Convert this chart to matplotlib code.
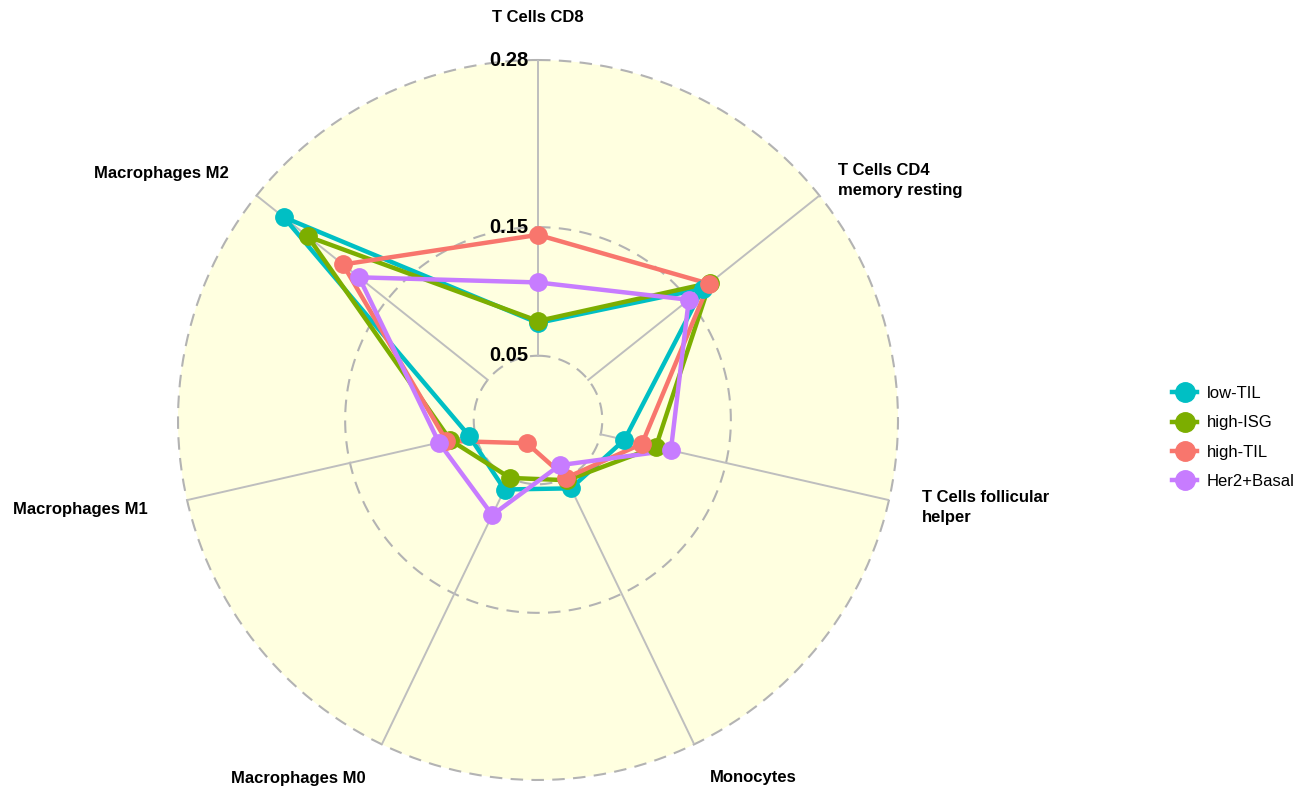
import numpy as np
import matplotlib
matplotlib.use('Agg')
import matplotlib.pyplot as plt
from matplotlib.lines import Line2D

# cell types, clockwise from the top
axes_names = ['T Cells CD8', 'T Cells CD4\nmemory resting', 'T Cells follicular\nhelper',
              'Monocytes', 'Macrophages M0', 'Macrophages M1', 'Macrophages M2']

groups = ['low-TIL', 'high-ISG', 'high-TIL', 'Her2+Basal']
colors = ['#00BFC4', '#7CAE00', '#F8766D', '#C77CFF']

low_til = [0.0755, 0.164, 0.069, 0.059, 0.060, 0.055, 0.253]
high_isg = [0.077, 0.171, 0.094, 0.052, 0.050, 0.070, 0.229]
high_til = [0.144, 0.170, 0.083, 0.050, 0.020, 0.073, 0.194]
her2_basal = [0.107, 0.150, 0.106, 0.039, 0.082, 0.079, 0.178]
values = [low_til, high_isg, high_til, her2_basal]

grid_vals = [0.05, 0.15, 0.28]
grid_labels = ['0.05', '0.15', '0.28']

plt.rcParams['font.family'] = ['Liberation Sans', 'DejaVu Sans']

W, H = 1303, 789
fig = plt.figure(figsize=(W / 100, H / 100), dpi=100)
cx, cy, R = 538, 420, 360
ax = fig.add_axes([(cx - R) / W, (H - cy - R) / H, 2 * R / W, 2 * R / H], projection='polar')
ax.set_theta_offset(np.pi / 2)
ax.set_theta_direction(-1)
ax.set_ylim(0, grid_vals[-1])
ax.set_facecolor('#FFFFE0')
ax.spines['polar'].set_visible(False)
ax.grid(False)
ax.set_xticks([])
ax.set_yticks([])

n = len(axes_names)
theta = np.arange(n) * 2 * np.pi / n

# dashed grid circles
tt = np.linspace(0, 2 * np.pi, 400)
for g in grid_vals:
    ax.plot(tt, np.full_like(tt, g), color='#B3B3B3', lw=1.5, ls=(0, (6, 4)),
            zorder=1, clip_on=False)

# spokes
for t in theta:
    ax.plot([t, t], [grid_vals[0], grid_vals[-1]], color='#BEBEBE', lw=1.4, zorder=1)

# grid labels
for g, lab in zip(grid_vals, grid_labels):
    ax.annotate(lab, (0, g), xytext=(-7, 0), textcoords='offset points',
                ha='right', va='center', fontsize=14.5, fontweight='bold', zorder=5)

# axis labels (radius in px from the centre)
label_r = [402, 384, 394, 397, 398, 400, 396]
for t, name, rp in zip(theta, axes_names, label_r):
    a = np.pi / 2 - t
    c = np.cos(a)
    if c > 0.1:
        ha = 'left'
    elif c < -0.1:
        ha = 'right'
    else:
        ha = 'center'
    ax.text(t, rp / R * grid_vals[-1], name, ha=ha, va='center', fontsize=12,
            fontweight='bold', linespacing=1.4, clip_on=False)

# series
handles = []
for g, v, col in zip(groups, values, colors):
    th = np.append(theta, theta[0])
    vv = np.append(v, v[0])
    ax.plot(th, vv, color=col, lw=3.2, zorder=3)
    ax.plot(theta, v, 'o', color=col, markersize=12.5, zorder=4)
    handles.append(Line2D([], [], color=col, lw=3.2, marker='o', markersize=14))

fig.legend(handles, groups, loc='center left', bbox_to_anchor=(0.888, 0.4455),
           frameon=False, fontsize=12, handlelength=1.5, labelspacing=0.85,
           handletextpad=0.6)

plt.savefig('out.png', dpi=100)
